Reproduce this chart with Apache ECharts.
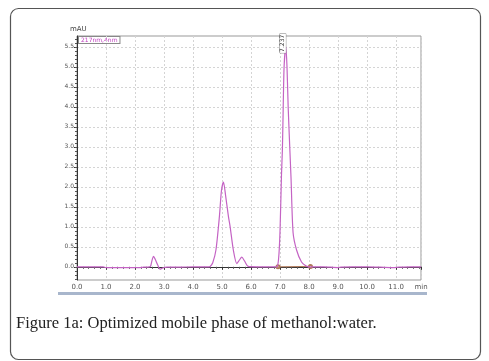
<!DOCTYPE html>
<html><head><meta charset="utf-8">
<script src="https://cdn.jsdelivr.net/npm/echarts@6/dist/echarts.min.js"></script>
<style>html,body{margin:0;padding:0;background:#fff}#c{width:489px;height:361px}</style>
</head><body><div id="c"></div>
<script>
const times = [0.0,0.5,0.9,1.0,1.5,2.0,2.3,2.5,2.54,2.6,2.64,2.7,2.78,2.86,2.95,3.1,3.5,4.0,4.5,4.59,4.68,4.79,4.91,4.98,5.05,5.12,5.22,5.28,5.39,5.51,5.6,5.68,5.78,5.9,6.2,6.5,6.88,6.95,7.0,7.05,7.08,7.1,7.14,7.2,7.24,7.28,7.34,7.38,7.45,7.57,7.74,7.9,8.0,8.5,9.0,9.1,9.5,10.0,10.9,11.1,11.5,11.86];
const signal = [0.0,0.0,0.0,-0.02,-0.02,-0.02,-0.01,0.0,0.02,0.2,0.26,0.18,0.05,-0.06,-0.03,-0.01,-0.01,0.0,0.0,0.01,0.1,0.42,1.26,1.9,2.12,1.8,1.26,1.0,0.42,0.08,0.17,0.24,0.14,0.01,0.0,0.0,0.0,0.2,0.9,2.3,2.9,3.6,5.0,5.5,5.0,4.0,2.9,2.2,0.85,0.42,0.12,0.02,0.0,0.0,-0.02,-0.01,0.0,0.0,-0.02,-0.01,0.0,0.0];
const baselineTimes = [6.93, 8.05];
const baselineValues = [0.0, 0.01];
const peakTime = 7.2, peakValue = 5.5, peakLabel = '7.237';
const xTicks = ['0.0','1.0','2.0','3.0','4.0','5.0','6.0','7.0','8.0','9.0','10.0','11.0','min'];
const yTickValues = [0,0.5,1,1.5,2,2.5,3,3.5,4,4.5,5,5.5];
const yTicks = ['0.0','0.5','1.0','1.5','2.0','2.5','3.0','3.5','4.0','4.5','5.0','5.5'];
const yMinorValues = [-0.3,-0.2,-0.1,0,0.1,0.2,0.3,0.4,0.5,0.6,0.7,0.8,0.9,1,1.1,1.2,1.3,1.4,1.5,1.6,1.7,1.8,1.9,2,2.1,2.2,2.3,2.4,2.5,2.6,2.7,2.8,2.9,3,3.1,3.2,3.3,3.4,3.5,3.6,3.7,3.8,3.9,4,4.1,4.2,4.3,4.4,4.5,4.6,4.7,4.8,4.9,5,5.1,5.2,5.3,5.4,5.5,5.6,5.7];
const legendText = '217nm,4nm';
const caption = 'Figure 1a: Optimized mobile phase of methanol:water.';

const chart = echarts.init(document.getElementById('c'), null, {renderer:'canvas'});
const lineData = times.map((t,i)=>[t, signal[i]]);
const baseData = baselineTimes.map((t,i)=>[t, baselineValues[i]]);
const yMin = -0.33, yMax = 5.77;
chart.setOption({
  animation:false,
  grid:{left:77,right:68,top:36,bottom:81,show:true,borderColor:'#999',borderWidth:1},
  xAxis:{type:'value',min:0,max:11.86,interval:1,
    axisLine:{lineStyle:{color:'#333',width:1}},
    axisTick:{length:3,lineStyle:{color:'#333'}},
    minorTick:{show:true,splitNumber:5,length:2,lineStyle:{color:'#555'}},
    splitLine:{show:true,lineStyle:{color:'#d4d4d4',type:[2,2]}},
    axisLabel:{fontSize:7,color:'#555',margin:4,fontFamily:'DejaVu Sans',
      formatter:v=>{ if(v>11.5) return xTicks[12]; const i=Math.round(v); return Math.abs(v-i)<1e-6?xTicks[i]:''; }}
  },
  yAxis:[
   {type:'value',min:yMin,max:yMax,
    axisLine:{show:true,lineStyle:{color:'#333',width:1}},
    axisTick:{show:true,length:3,customValues:yTickValues,lineStyle:{color:'#333'}},
    splitLine:{show:true,lineStyle:{color:'#d4d4d4',type:[2,2]}},
    axisLabel:{fontSize:6,color:'#555',margin:3,fontFamily:'DejaVu Sans',customValues:yTickValues,
      formatter:v=>{ const i=yTickValues.findIndex(t=>Math.abs(t-v)<1e-6); return i<0?'':yTicks[i]; }}
   },
   {type:'value',min:yMin,max:yMax,position:'left',
    axisLine:{show:false},
    axisTick:{show:true,length:2,customValues:yMinorValues,lineStyle:{color:'#555'}},
    splitLine:{show:false},
    axisLabel:{show:false}
   }
  ],
  series:[
    {type:'line',data:baseData,symbol:'emptyCircle',symbolSize:3,showSymbol:true,
      lineStyle:{color:'#b07a5a',width:1},itemStyle:{color:'#b07a5a'},z:1},
    {type:'line',data:lineData,smooth:0.25,symbol:'none',
      lineStyle:{color:'#c463c4',width:1.2},z:2,
      markPoint:{symbol:'rect',symbolSize:[1,1],itemStyle:{color:'transparent'},
        data:[{coord:[peakTime,peakValue],value:peakLabel}],
        label:{show:true,formatter:peakLabel,rotate:90,fontSize:6,color:'#333',fontFamily:'DejaVu Sans',
          position:'top',distance:1,offset:[2,0],backgroundColor:'#fff',borderColor:'#888',borderWidth:0.5,padding:[0,1]}}}
  ],
  graphic:[
    {type:'rect',left:8,top:6,shape:{width:470,height:351,r:8},style:{fill:'none',stroke:'#555',lineWidth:1.2},z:-1},
    {type:'rect',left:58,top:292,shape:{width:369,height:3},style:{fill:'#a8b6cc'}},
    {type:'text',left:70,top:26,style:{text:'mAU',fontSize:7,fill:'#444',fontFamily:'DejaVu Sans'}},
    {type:'text',left:78,top:36,style:{text:legendText,fontSize:6,fill:'#c040c0',fontFamily:'DejaVu Sans',
      backgroundColor:'#fff',borderColor:'#888',borderWidth:1,padding:[0,2]}},
    {type:'text',left:16,top:315,style:{text:caption,fontSize:16.5,fill:'#222',fontFamily:'Liberation Serif'}}
  ]
});
</script></body></html>
